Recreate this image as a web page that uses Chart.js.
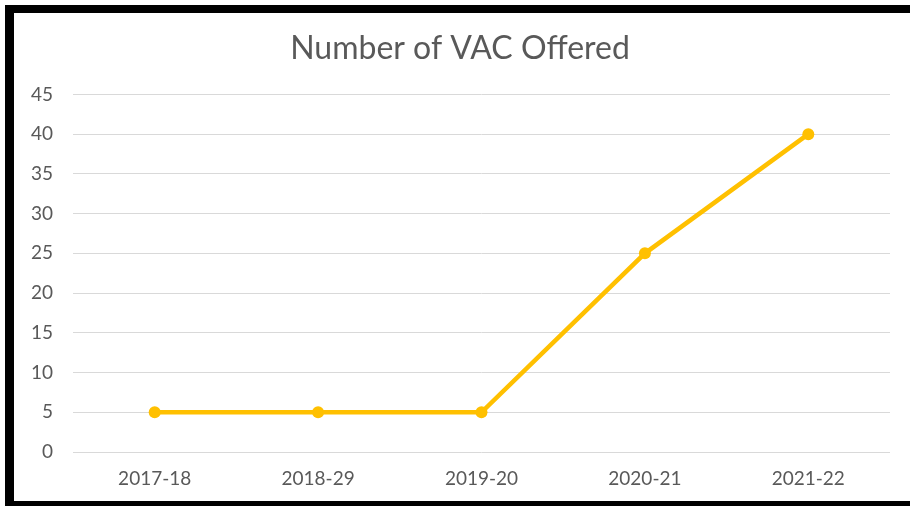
<!DOCTYPE html>
<html>
<head>
    <title>Number of VAC Offered</title>
    <style>
        body {
            margin: 0;
            background-color: white;
            width: 910px;
            height: 506px;
            overflow: hidden;
            position: relative;
        }
        .frame-left {
            position: absolute; left: 5px; top: 5px; width: 9px; height: 501px; background: black;
        }
        .frame-top {
            position: absolute; left: 5px; top: 5px; width: 905px; height: 8px; background: black;
        }
        .frame-bottom {
            position: absolute; left: 5px; top: 501px; width: 905px; height: 5px; background: black;
        }
        #vacChart {
            position: absolute; left: 0; top: 0;
        }
    </style>
</head>
<body>
    <canvas id="vacChart" width="910" height="506"></canvas>
    <div class="frame-left"></div>
    <div class="frame-top"></div>
    <div class="frame-bottom"></div>

    <script src="https://cdn.jsdelivr.net/npm/chart.js"></script>
    <script>
        // 데이터
        const years = ['2017-18', '2018-29', '2019-20', '2020-21', '2021-22'];
        const vacOffered = [5, 5, 5, 25, 40];
        const chartTitle = 'Number of VAC Offered';

        const textColor = '#595959';
        const lineColor = '#FFC000';

        const ctx = document.getElementById('vacChart').getContext('2d');
        new Chart(ctx, {
            type: 'line',
            data: {
                labels: years,
                datasets: [{
                    label: chartTitle,
                    data: vacOffered,
                    borderColor: lineColor,
                    backgroundColor: lineColor,
                    borderWidth: 4.5,
                    pointRadius: 6,
                    pointBorderWidth: 0,
                    tension: 0,
                    fill: false
                }]
            },
            options: {
                responsive: false,
                animation: false,
                layout: {
                    padding: { left: 30, right: 20, top: 0, bottom: 0 }
                },
                plugins: {
                    legend: { display: false },
                    tooltip: { enabled: false },
                    title: {
                        display: true,
                        text: chartTitle,
                        color: textColor,
                        font: { family: 'Lato', size: 32, weight: 'normal' },
                        padding: { top: 29, bottom: 27 }
                    }
                },
                scales: {
                    x: {
                        offset: true,
                        grid: { display: false },
                        border: { display: false },
                        ticks: {
                            color: textColor,
                            font: { family: 'Lato', size: 19 },
                            padding: 7,
                            maxRotation: 0
                        },
                        afterFit: function(scale) { scale.height = 54; }
                    },
                    y: {
                        min: 0,
                        max: 45,
                        grid: { color: '#d9d9d9', lineWidth: 1, drawTicks: false },
                        border: { display: false },
                        ticks: {
                            stepSize: 5,
                            color: textColor,
                            font: { family: 'Lato', size: 19 },
                            padding: 20
                        },
                        afterFit: function(scale) { scale.width = 43; }
                    }
                }
            }
        });
    </script>
</body>
</html>
